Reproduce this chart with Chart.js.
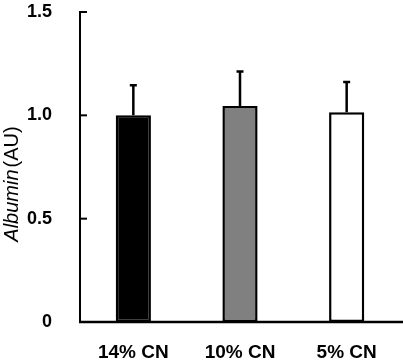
<!DOCTYPE html>
<html>
<head>
<meta charset="utf-8">
<script src="https://cdn.jsdelivr.net/npm/chart.js@4.4.1/dist/chart.umd.min.js"></script>
<style>
html,body{margin:0;padding:0;background:#fff;}
#wrap{width:403px;height:362px;position:relative;}
</style>
</head>
<body>
<div id="wrap"><canvas id="c" width="403" height="362"></canvas></div>
<script>
const categories = ['14% CN', '10% CN', '5% CN'];
const albumin = [1.00, 1.045, 1.015];
const errors = [0.145, 0.167, 0.146];
const yTicks = [0, 0.5, 1.0, 1.5];
const barColors = ['#000000', '#808080', '#ffffff'];

const FONT = "'Liberation Sans', Arial, sans-serif";

const decorPlugin = {
  id: 'decor',
  afterDatasetsDraw(chart) {
    const ctx = chart.ctx;
    const y = chart.scales.y;
    const meta = chart.getDatasetMeta(0);
    ctx.save();
    ctx.strokeStyle = '#000';
    ctx.lineWidth = 2.5;
    meta.data.forEach((bar, i) => {
      const cx = bar.x;
      const yTop = y.getPixelForValue(albumin[i] + errors[i]);
      const yBar = y.getPixelForValue(albumin[i]);
      ctx.beginPath();
      ctx.moveTo(cx, yBar);
      ctx.lineTo(cx, yTop);
      ctx.moveTo(cx - 3.5, yTop);
      ctx.lineTo(cx + 3.5, yTop);
      ctx.stroke();
    });
    ctx.lineWidth = 2;
    const left = chart.chartArea.left;
    yTicks.forEach(v => {
      if (v === 0) return;
      const py = y.getPixelForValue(v);
      ctx.beginPath();
      ctx.moveTo(left, py);
      ctx.lineTo(left + 7, py);
      ctx.stroke();
    });
    const p0 = y.getPixelForValue(0);
    ctx.lineWidth = 2.5;
    ctx.beginPath();
    ctx.moveTo(left - 1, p0);
    ctx.lineTo(chart.width, p0);
    ctx.stroke();
    ctx.fillStyle = '#000';
    ctx.textBaseline = 'middle';
    ctx.textAlign = 'left';
    const f1 = "italic 20px " + FONT;
    const f2 = "20px " + FONT;
    ctx.font = f1;
    const w1 = ctx.measureText('Albumin').width;
    ctx.font = f2;
    const w2 = ctx.measureText('(AU)').width;
    const gap = 2;
    const total = w1 + gap + w2;
    const cy = 184;
    ctx.translate(12, cy);
    ctx.rotate(-Math.PI / 2);
    ctx.font = f1;
    ctx.fillText('Albumin', -total / 2, 0);
    ctx.font = f2;
    ctx.fillText('(AU)', -total / 2 + w1 + gap, 0);
    ctx.restore();
  }
};

new Chart(document.getElementById('c'), {
  type: 'bar',
  data: {
    labels: categories,
    datasets: [{
      data: albumin,
      backgroundColor: barColors,
      borderColor: '#000',
      borderWidth: 2.5,
      borderSkipped: false,
      barPercentage: 0.33,
      categoryPercentage: 1.0
    }]
  },
  options: {
    responsive: false,
    animation: false,
    devicePixelRatio: 1,
    layout: { padding: { top: 12, right: 3, left: 0, bottom: 0 } },
    plugins: { legend: { display: false }, tooltip: { enabled: false }, title: { display: false } },
    scales: {
      x: {
        grid: { display: false, drawTicks: false },
        border: { display: false },
        ticks: { color: '#000', padding: 19, font: { family: FONT, size: 19, weight: 'bold' }, maxRotation: 0 },
        afterFit(s) { s.height = 40; s.paddingLeft = 0; s.paddingRight = 0; }
      },
      y: {
        min: 0, max: 1.5,
        grid: { display: false, drawTicks: false },
        border: { display: true, color: '#000', width: 2 },
        ticks: {
          stepSize: 0.5,
          color: '#000',
          padding: 28,
          font: { family: FONT, size: 18, weight: 'bold' },
          callback: v => v === 0 ? '0' : v.toFixed(1)
        },
        afterFit(s) { s.width = 80; s.paddingTop = 0; s.paddingBottom = 0; }
      }
    }
  },
  plugins: [decorPlugin]
});
</script>
</body>
</html>
